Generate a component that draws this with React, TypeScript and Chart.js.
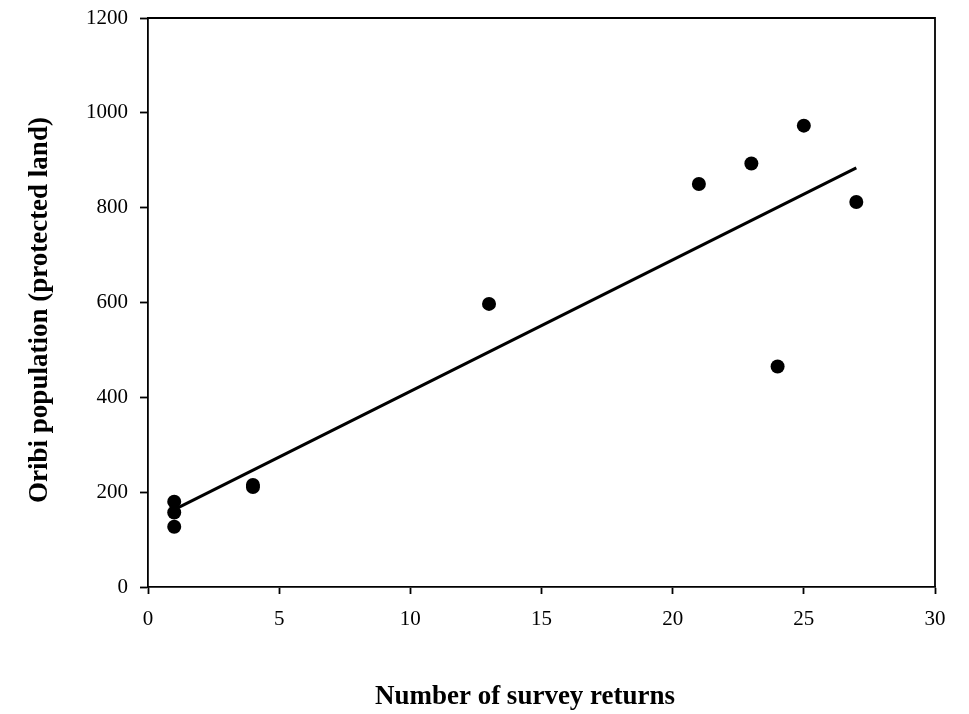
import React, { useEffect, useRef } from "react";
import { Chart, registerables } from "chart.js";

Chart.register(...registerables);

const surveyReturns = [1, 1, 1, 4, 4, 13, 21, 23, 24, 25, 27];
const oribiPopulation = [180, 157, 127, 211, 215, 597, 850, 893, 465, 973, 812];
const trendX = [1, 27];
const trendY = [163, 884];
const xTicks = [0, 5, 10, 15, 20, 25, 30];
const yTicks = [0, 200, 400, 600, 800, 1000, 1200];
const xTitle = "Number of survey returns";
const yTitle = "Oribi population (protected land)";

const FONT = "'Liberation Serif', 'Times New Roman', serif";

const framePlugin = {
  id: "frame",
  afterDraw(chart: any) {
    const { ctx, chartArea } = chart;
    ctx.save();
    ctx.strokeStyle = "#000";
    ctx.lineWidth = 1.8;
    ctx.beginPath();
    ctx.moveTo(chartArea.left, chartArea.top);
    ctx.lineTo(chartArea.right, chartArea.top);
    ctx.lineTo(chartArea.right, chartArea.bottom);
    ctx.stroke();

    // axis titles
    ctx.fillStyle = "#000";
    ctx.font = `bold 27px ${FONT}`;
    ctx.textAlign = "center";
    ctx.textBaseline = "middle";
    ctx.fillText(xTitle, 525, 697);
    ctx.translate(40, 310);
    ctx.rotate(-Math.PI / 2);
    ctx.fillText(yTitle, 0, 0);
    ctx.restore();
  },
};

export default function App() {
  const ref = useRef<HTMLCanvasElement>(null);
  useEffect(() => {
    if (!ref.current) return;
    const chart = new Chart(ref.current, {
      type: "scatter",
      data: {
        datasets: [
          {
            type: "line",
            data: trendX.map((x, i) => ({ x, y: trendY[i] })),
            borderColor: "#000",
            borderWidth: 3,
            pointRadius: 0,
            fill: false,
            order: 2,
          },
          {
            type: "scatter",
            data: surveyReturns.map((x, i) => ({ x, y: oribiPopulation[i] })),
            backgroundColor: "#000",
            borderColor: "#000",
            pointRadius: 7,
            borderWidth: 0,
            order: 1,
          },
        ],
      },
      options: {
        responsive: false,
        animation: false,
        layout: { padding: { left: 0, top: 18, right: 34, bottom: 0 } },
        plugins: { legend: { display: false }, tooltip: { enabled: false } },
        scales: {
          x: {
            type: "linear",
            min: 0,
            max: 30,
            afterBuildTicks: (s: any) => {
              s.ticks = xTicks.map((v) => ({ value: v }));
            },
            afterFit: (s: any) => {
              s.height = 127;
              s.paddingLeft = 0;
              s.paddingRight = 0;
            },
            grid: { display: true, drawOnChartArea: false, tickLength: 7, tickColor: "#000", tickWidth: 1.8 },
            border: { display: true, color: "#000", width: 1.8 },
            ticks: {
              color: "#000",
              padding: 13,
              font: { family: FONT, size: 21 },
              callback: (v: any) => String(v),
            },
          },
          y: {
            type: "linear",
            min: 0,
            max: 1200,
            afterBuildTicks: (s: any) => {
              s.ticks = yTicks.map((v) => ({ value: v }));
            },
            afterFit: (s: any) => {
              s.width = 148;
              s.paddingTop = 0;
              s.paddingBottom = 0;
            },
            grid: { display: true, drawOnChartArea: false, tickLength: 8, tickColor: "#000", tickWidth: 1.8 },
            border: { display: true, color: "#000", width: 1.8 },
            ticks: {
              color: "#000",
              padding: 12,
              font: { family: FONT, size: 21 },
              callback: (v: any) => String(v),
            },
          },
        },
      },
      plugins: [framePlugin],
    } as any);
    return () => chart.destroy();
  }, []);
  return (
    <div style={{ position: "absolute", left: 0, top: 0, width: 969, height: 714, background: "#fff" }}>
      <canvas ref={ref} width={969} height={714} />
    </div>
  );
}
